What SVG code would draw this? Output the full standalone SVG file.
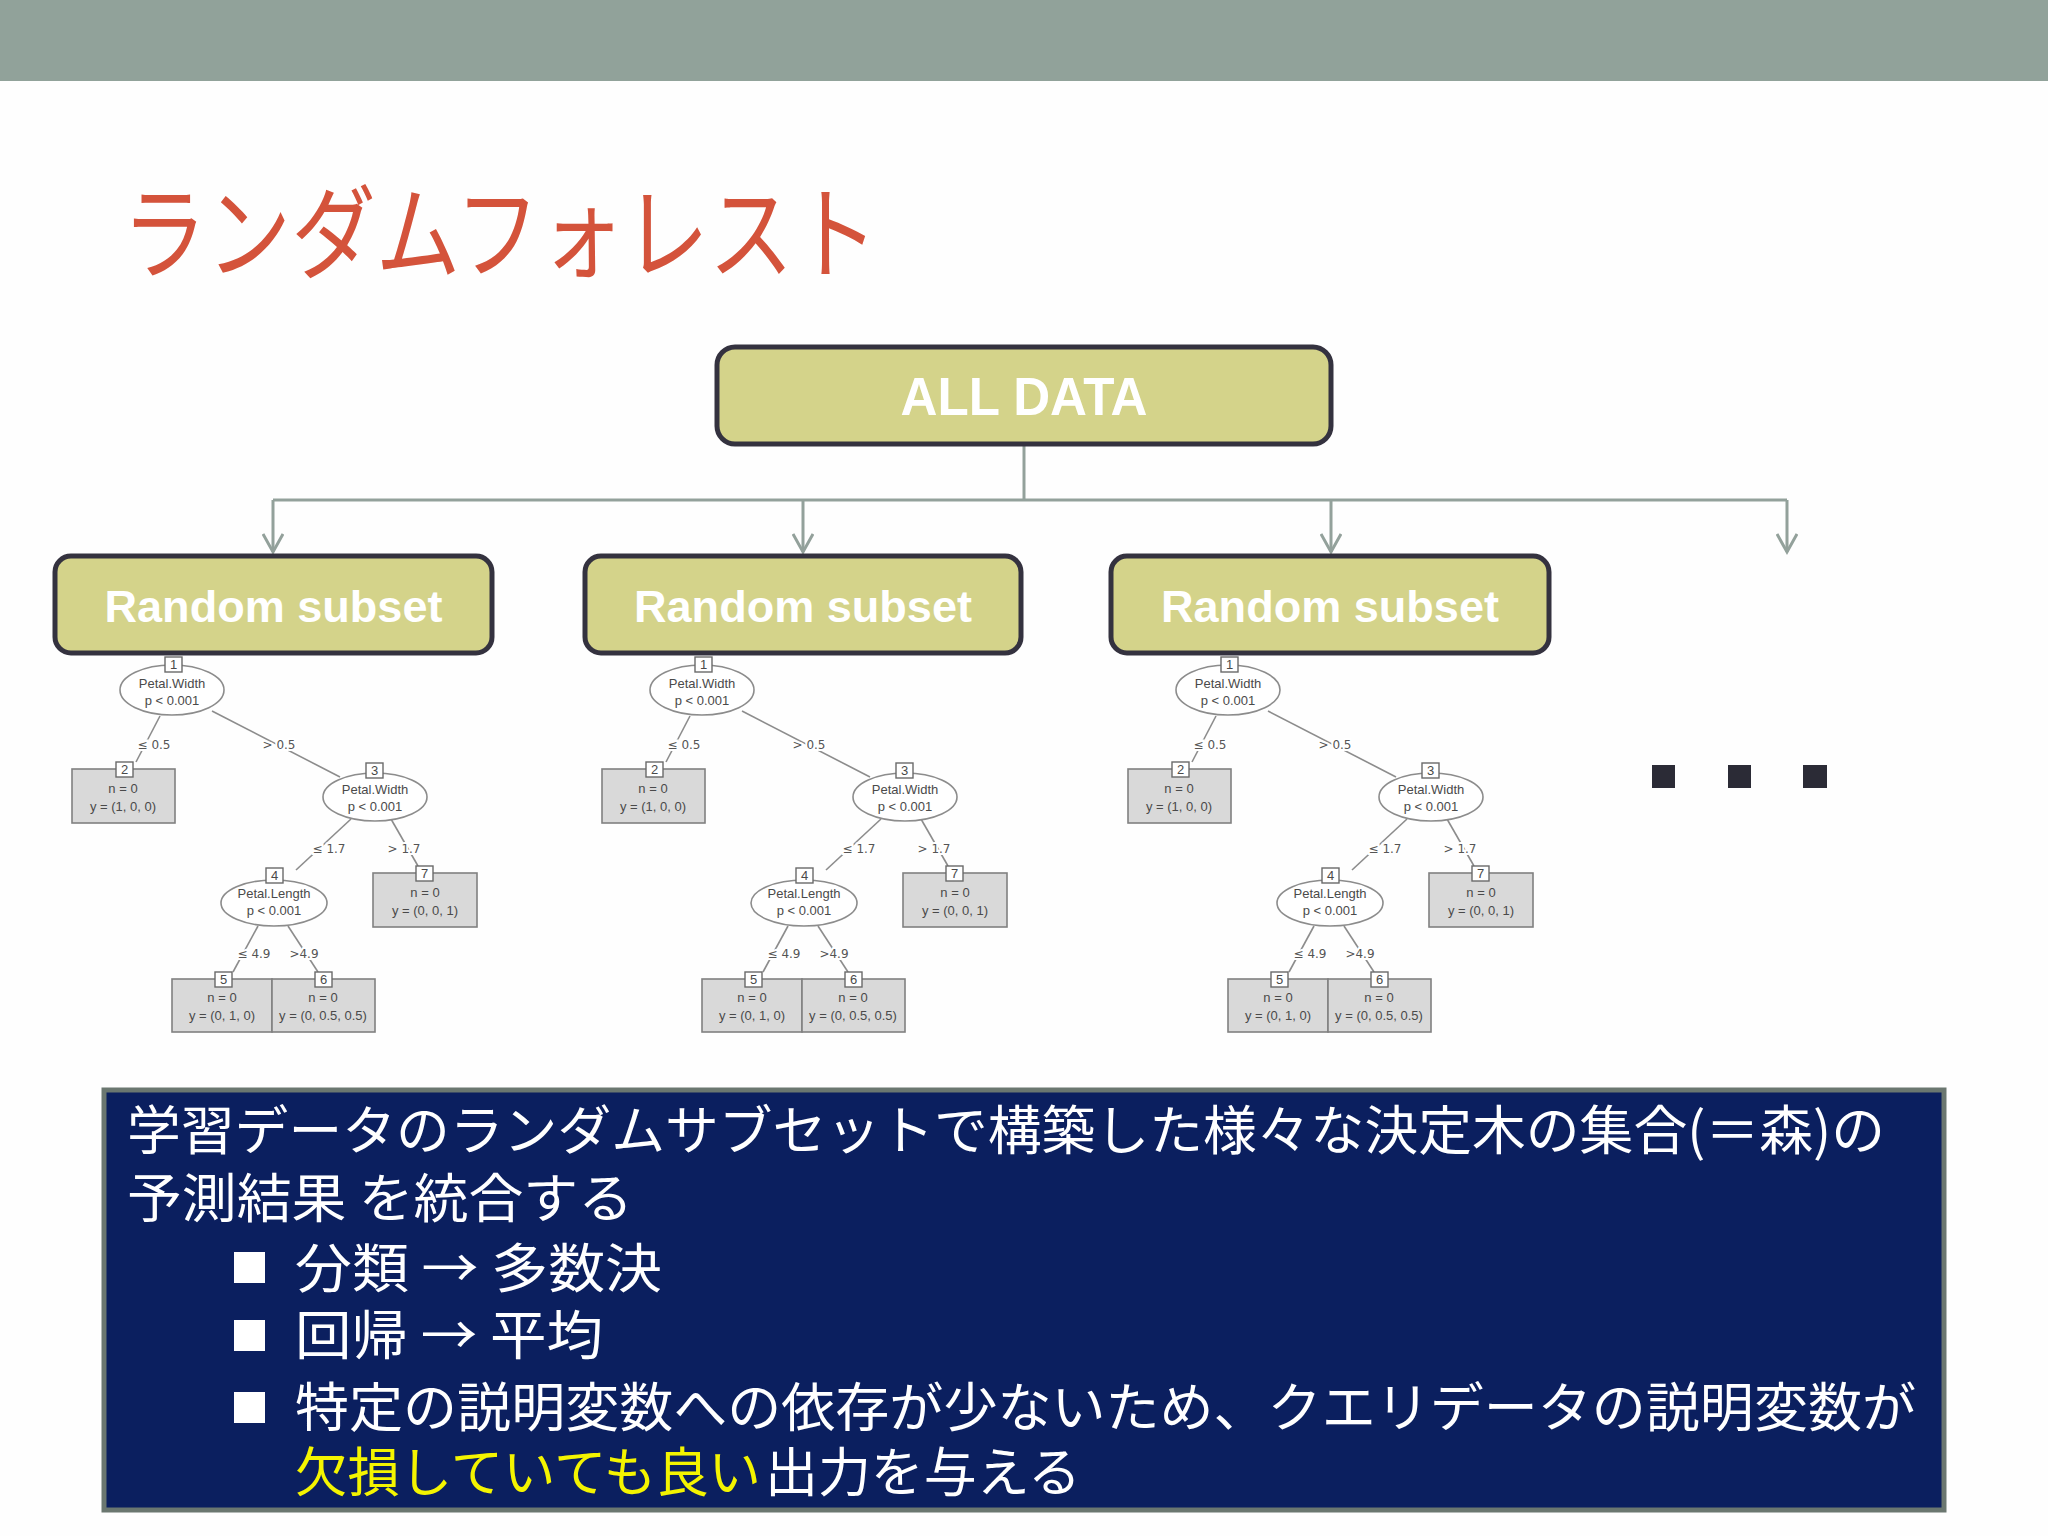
<svg xmlns="http://www.w3.org/2000/svg" width="2048" height="1536" viewBox="0 0 2048 1536">
<style>
.box{fill:#d4d38a;stroke:#34323f;stroke-width:5}
.boxt{font-family:"Liberation Sans",Arial,sans-serif;font-weight:bold;fill:#fff;text-anchor:middle}
.conn{fill:none;stroke:#93a19b;stroke-width:3}
.te{stroke:#8c8c8c;stroke-width:1.6;fill:none}
.tel{fill:#fff;stroke:#8c8c8c;stroke-width:1.6}
.tleaf{fill:#d9d9d9;stroke:#808080;stroke-width:1.6}
.tid{fill:#fff;stroke:#6a6a6a;stroke-width:1.4}
.tt{font-family:"Liberation Sans",Arial,sans-serif;font-size:13px;fill:#4a4a4a;text-anchor:middle}
.tl{font-family:"DejaVu Sans","Liberation Sans",sans-serif;font-size:12px;fill:#555;text-anchor:middle;stroke:#fff;stroke-width:4;paint-order:stroke}
.jp{font-family:"Noto Sans CJK JP","Noto Sans",sans-serif;font-size:53px;fill:#fff}
.yl{fill:#f4f400}
</style>
<defs>
<marker id="arr" markerWidth="24" markerHeight="22" refX="20" refY="11" orient="auto" markerUnits="userSpaceOnUse">
<path d="M2,1 L20,11 L2,21" fill="none" stroke="#93a19b" stroke-width="3"/>
</marker>
</defs>
<rect x="0" y="0" width="2048" height="1536" fill="#fefefe"/>
<rect x="0" y="0" width="2048" height="81" fill="#91a29a"/>
<text x="122" y="271" font-family="'Noto Sans CJK JP',sans-serif" font-size="102" fill="#d4533b" textLength="756" lengthAdjust="spacingAndGlyphs">ランダムフォレスト</text>

<g id="connectors">
<path class="conn" d="M1024,444 V500 M273,500 H1787"/>
<path class="conn" d="M273,500 V552" marker-end="url(#arr)"/>
<path class="conn" d="M803,500 V552" marker-end="url(#arr)"/>
<path class="conn" d="M1331,500 V552" marker-end="url(#arr)"/>
<path class="conn" d="M1787,500 V552" marker-end="url(#arr)"/>
</g>

<g id="tree1">
<g class="te"><line x1="160" y1="716" x2="136" y2="762"/><line x1="212" y1="711" x2="340" y2="777"/><line x1="351" y1="819" x2="296" y2="870"/><line x1="391" y1="819" x2="418" y2="866"/><line x1="258" y1="926" x2="233" y2="972"/><line x1="288" y1="926" x2="318" y2="972"/></g>
<ellipse class="tel" cx="172" cy="690" rx="52" ry="25"/><ellipse class="tel" cx="375" cy="797" rx="52" ry="24"/><ellipse class="tel" cx="274" cy="903" rx="53" ry="23"/>
<rect class="tleaf" x="72" y="769" width="103" height="54"/><rect class="tleaf" x="373" y="873" width="104" height="54"/><rect class="tleaf" x="172" y="979" width="100" height="53"/><rect class="tleaf" x="272" y="979" width="103" height="53"/>
<rect class="tid" x="165" y="657" width="17" height="15"/><rect class="tid" x="116" y="762" width="17" height="15"/><rect class="tid" x="366" y="763" width="17" height="15"/><rect class="tid" x="266" y="868" width="17" height="15"/><rect class="tid" x="416" y="866" width="17" height="15"/><rect class="tid" x="215" y="972" width="17" height="15"/><rect class="tid" x="315" y="972" width="17" height="15"/>
<text class="tt" x="173.5" y="669">1</text><text class="tt" x="124.5" y="774">2</text><text class="tt" x="374.5" y="775">3</text><text class="tt" x="274.5" y="880">4</text><text class="tt" x="424.5" y="878">7</text><text class="tt" x="223.5" y="984">5</text><text class="tt" x="323.5" y="984">6</text>
<text class="tt" x="172" y="688">Petal.Width</text><text class="tt" x="172" y="705">p &lt; 0.001</text>
<text class="tt" x="375" y="794">Petal.Width</text><text class="tt" x="375" y="811">p &lt; 0.001</text>
<text class="tt" x="274" y="898">Petal.Length</text><text class="tt" x="274" y="915">p &lt; 0.001</text>
<text class="tt" x="123" y="793">n = 0</text><text class="tt" x="123" y="811">y = (1, 0, 0)</text>
<text class="tt" x="425" y="897">n = 0</text><text class="tt" x="425" y="915">y = (0, 0, 1)</text>
<text class="tt" x="222" y="1002">n = 0</text><text class="tt" x="222" y="1020">y = (0, 1, 0)</text>
<text class="tt" x="323" y="1002">n = 0</text><text class="tt" x="323" y="1020">y = (0, 0.5, 0.5)</text>
<text class="tl" x="154" y="749">≤ 0.5</text><text class="tl" x="279" y="749">&gt; 0.5</text><text class="tl" x="329" y="853">≤ 1.7</text><text class="tl" x="404" y="853">&gt; 1.7</text><text class="tl" x="254" y="958">≤ 4.9</text><text class="tl" x="304" y="958">&gt;4.9</text>
</g>

<g id="tree2" transform="translate(530,0)">
<g class="te"><line x1="160" y1="716" x2="136" y2="762"/><line x1="212" y1="711" x2="340" y2="777"/><line x1="351" y1="819" x2="296" y2="870"/><line x1="391" y1="819" x2="418" y2="866"/><line x1="258" y1="926" x2="233" y2="972"/><line x1="288" y1="926" x2="318" y2="972"/></g>
<ellipse class="tel" cx="172" cy="690" rx="52" ry="25"/><ellipse class="tel" cx="375" cy="797" rx="52" ry="24"/><ellipse class="tel" cx="274" cy="903" rx="53" ry="23"/>
<rect class="tleaf" x="72" y="769" width="103" height="54"/><rect class="tleaf" x="373" y="873" width="104" height="54"/><rect class="tleaf" x="172" y="979" width="100" height="53"/><rect class="tleaf" x="272" y="979" width="103" height="53"/>
<rect class="tid" x="165" y="657" width="17" height="15"/><rect class="tid" x="116" y="762" width="17" height="15"/><rect class="tid" x="366" y="763" width="17" height="15"/><rect class="tid" x="266" y="868" width="17" height="15"/><rect class="tid" x="416" y="866" width="17" height="15"/><rect class="tid" x="215" y="972" width="17" height="15"/><rect class="tid" x="315" y="972" width="17" height="15"/>
<text class="tt" x="173.5" y="669">1</text><text class="tt" x="124.5" y="774">2</text><text class="tt" x="374.5" y="775">3</text><text class="tt" x="274.5" y="880">4</text><text class="tt" x="424.5" y="878">7</text><text class="tt" x="223.5" y="984">5</text><text class="tt" x="323.5" y="984">6</text>
<text class="tt" x="172" y="688">Petal.Width</text><text class="tt" x="172" y="705">p &lt; 0.001</text>
<text class="tt" x="375" y="794">Petal.Width</text><text class="tt" x="375" y="811">p &lt; 0.001</text>
<text class="tt" x="274" y="898">Petal.Length</text><text class="tt" x="274" y="915">p &lt; 0.001</text>
<text class="tt" x="123" y="793">n = 0</text><text class="tt" x="123" y="811">y = (1, 0, 0)</text>
<text class="tt" x="425" y="897">n = 0</text><text class="tt" x="425" y="915">y = (0, 0, 1)</text>
<text class="tt" x="222" y="1002">n = 0</text><text class="tt" x="222" y="1020">y = (0, 1, 0)</text>
<text class="tt" x="323" y="1002">n = 0</text><text class="tt" x="323" y="1020">y = (0, 0.5, 0.5)</text>
<text class="tl" x="154" y="749">≤ 0.5</text><text class="tl" x="279" y="749">&gt; 0.5</text><text class="tl" x="329" y="853">≤ 1.7</text><text class="tl" x="404" y="853">&gt; 1.7</text><text class="tl" x="254" y="958">≤ 4.9</text><text class="tl" x="304" y="958">&gt;4.9</text>
</g>

<g id="tree3" transform="translate(1056,0)">
<g class="te"><line x1="160" y1="716" x2="136" y2="762"/><line x1="212" y1="711" x2="340" y2="777"/><line x1="351" y1="819" x2="296" y2="870"/><line x1="391" y1="819" x2="418" y2="866"/><line x1="258" y1="926" x2="233" y2="972"/><line x1="288" y1="926" x2="318" y2="972"/></g>
<ellipse class="tel" cx="172" cy="690" rx="52" ry="25"/><ellipse class="tel" cx="375" cy="797" rx="52" ry="24"/><ellipse class="tel" cx="274" cy="903" rx="53" ry="23"/>
<rect class="tleaf" x="72" y="769" width="103" height="54"/><rect class="tleaf" x="373" y="873" width="104" height="54"/><rect class="tleaf" x="172" y="979" width="100" height="53"/><rect class="tleaf" x="272" y="979" width="103" height="53"/>
<rect class="tid" x="165" y="657" width="17" height="15"/><rect class="tid" x="116" y="762" width="17" height="15"/><rect class="tid" x="366" y="763" width="17" height="15"/><rect class="tid" x="266" y="868" width="17" height="15"/><rect class="tid" x="416" y="866" width="17" height="15"/><rect class="tid" x="215" y="972" width="17" height="15"/><rect class="tid" x="315" y="972" width="17" height="15"/>
<text class="tt" x="173.5" y="669">1</text><text class="tt" x="124.5" y="774">2</text><text class="tt" x="374.5" y="775">3</text><text class="tt" x="274.5" y="880">4</text><text class="tt" x="424.5" y="878">7</text><text class="tt" x="223.5" y="984">5</text><text class="tt" x="323.5" y="984">6</text>
<text class="tt" x="172" y="688">Petal.Width</text><text class="tt" x="172" y="705">p &lt; 0.001</text>
<text class="tt" x="375" y="794">Petal.Width</text><text class="tt" x="375" y="811">p &lt; 0.001</text>
<text class="tt" x="274" y="898">Petal.Length</text><text class="tt" x="274" y="915">p &lt; 0.001</text>
<text class="tt" x="123" y="793">n = 0</text><text class="tt" x="123" y="811">y = (1, 0, 0)</text>
<text class="tt" x="425" y="897">n = 0</text><text class="tt" x="425" y="915">y = (0, 0, 1)</text>
<text class="tt" x="222" y="1002">n = 0</text><text class="tt" x="222" y="1020">y = (0, 1, 0)</text>
<text class="tt" x="323" y="1002">n = 0</text><text class="tt" x="323" y="1020">y = (0, 0.5, 0.5)</text>
<text class="tl" x="154" y="749">≤ 0.5</text><text class="tl" x="279" y="749">&gt; 0.5</text><text class="tl" x="329" y="853">≤ 1.7</text><text class="tl" x="404" y="853">&gt; 1.7</text><text class="tl" x="254" y="958">≤ 4.9</text><text class="tl" x="304" y="958">&gt;4.9</text>
</g>

<g id="all-data">
<rect class="box" x="717" y="347" width="614" height="97" rx="18"/>
<text class="boxt" x="1024" y="415" font-size="53" textLength="247" lengthAdjust="spacingAndGlyphs">ALL DATA</text>
</g>
<g id="subset1">
<rect class="box" x="55" y="556" width="437" height="97" rx="16"/>
<text class="boxt" x="273.5" y="622" font-size="45" textLength="338" lengthAdjust="spacingAndGlyphs">Random subset</text>
</g>
<g id="subset2">
<rect class="box" x="585" y="556" width="436" height="97" rx="16"/>
<text class="boxt" x="803" y="622" font-size="45" textLength="338" lengthAdjust="spacingAndGlyphs">Random subset</text>
</g>
<g id="subset3">
<rect class="box" x="1111" y="556" width="438" height="97" rx="16"/>
<text class="boxt" x="1330" y="622" font-size="45" textLength="338" lengthAdjust="spacingAndGlyphs">Random subset</text>
</g>

<g id="ellipsis" fill="#2b2b36">
<rect x="1652" y="765" width="23" height="23"/>
<rect x="1728" y="765" width="23" height="23"/>
<rect x="1803" y="765" width="24" height="23"/>
</g>

<g id="summary">
<rect x="104" y="1090" width="1840" height="420" fill="#0b1f5f" stroke="#6b7770" stroke-width="5"/>
<text class="jp" x="127" y="1150" textLength="1758" lengthAdjust="spacingAndGlyphs">学習データのランダムサブセットで構築した様々な決定木の集合(＝森)の</text>
<text class="jp" x="127" y="1218" textLength="506" lengthAdjust="spacingAndGlyphs">予測結果 を統合する</text>
<g fill="#fff">
<rect x="234" y="1252" width="31" height="31"/>
<rect x="234" y="1320" width="31" height="31"/>
<rect x="234" y="1392" width="31" height="31"/>
</g>
<text class="jp" x="295" y="1288" textLength="367" lengthAdjust="spacingAndGlyphs">分類 → 多数決</text>
<text class="jp" x="295" y="1355" textLength="308" lengthAdjust="spacingAndGlyphs">回帰 → 平均</text>
<text class="jp" x="295" y="1427" textLength="1621" lengthAdjust="spacingAndGlyphs">特定の説明変数への依存が少ないため、クエリデータの説明変数が</text>
<text class="jp yl" x="295" y="1492" textLength="466" lengthAdjust="spacingAndGlyphs">欠損していても良い</text>
<text class="jp" x="765" y="1492" textLength="316" lengthAdjust="spacingAndGlyphs">出力を与える</text>
</g>
</svg>
